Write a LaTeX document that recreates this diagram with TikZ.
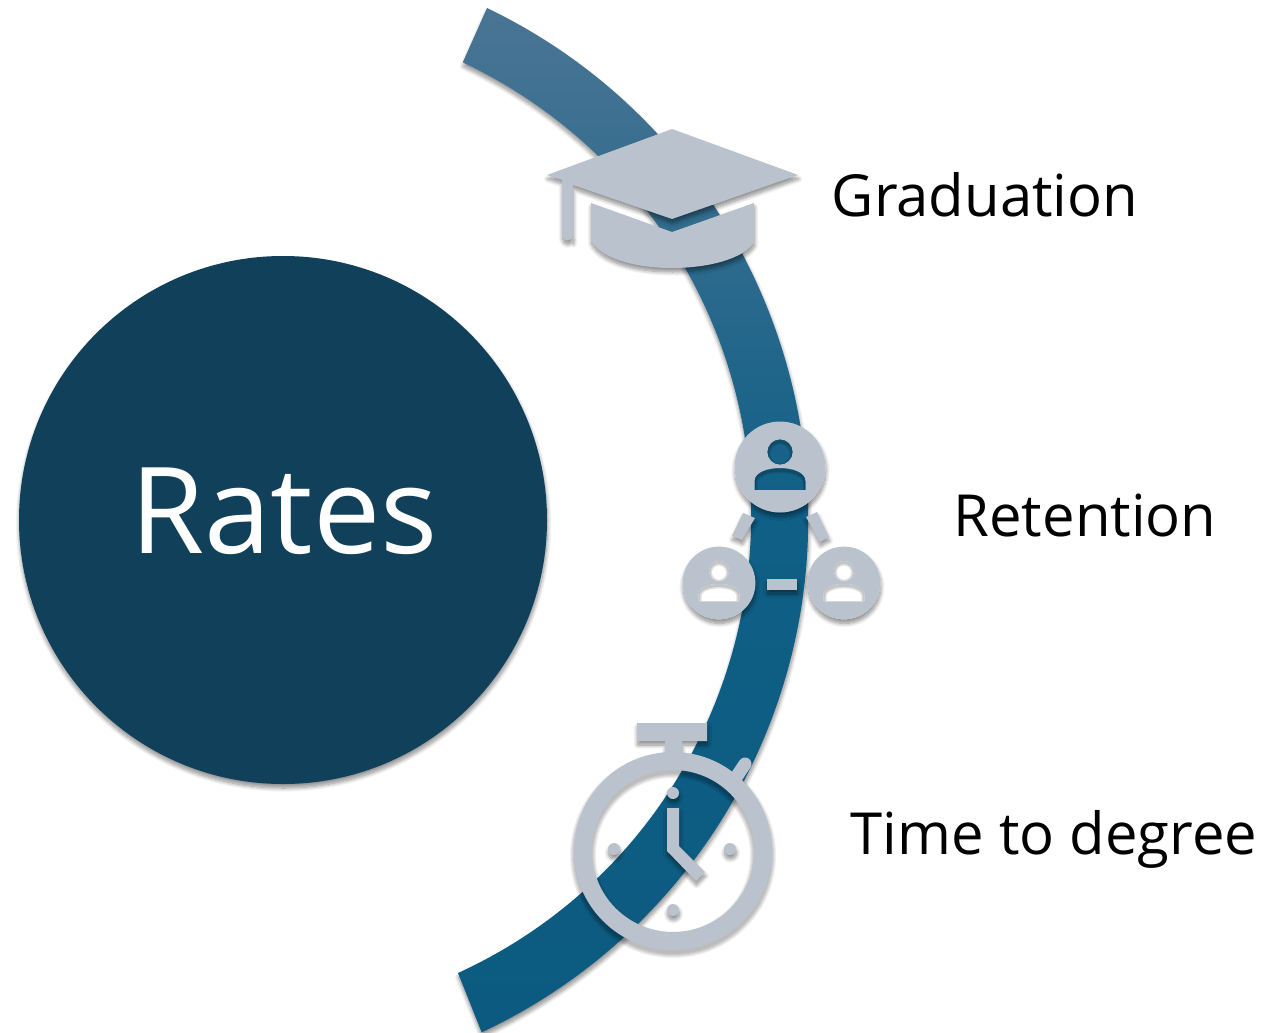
\documentclass[tikz,border=0pt]{standalone}
\usepackage{fontspec}
\setmainfont{Open Sans}
\usetikzlibrary{shadows.blur}
\definecolor{ratesblue}{HTML}{11405A}
\definecolor{icongray}{HTML}{BAC3CD}
\definecolor{bandtop}{HTML}{4A7594}
\definecolor{bandmid}{HTML}{0F5F86}
\definecolor{bandlow}{HTML}{0C5A80}
\tikzset{
	softshadow/.style={blur shadow={shadow xshift=0.5pt, shadow yshift=-4pt, shadow blur radius=4pt, shadow blur steps=10, shadow opacity=45}},
	iconpart/.style={fill=icongray, draw=none, softshadow},
	bandlabel/.style={font=\fontsize{58}{62}\selectfont, text=black, inner sep=0pt}
}
\def\personicon(#1)(#2){
	\begin{scope}[shift={(#1)}, scale=#2]
		\begin{scope}[even odd rule]
			\clip (-70, -70) rectangle (70, 70) (0, 0) circle (45.5);
			\path[softshadow] (0, 0) circle (45.5);
		\end{scope}
		\begin{scope}
			\clip (0, -15) circle (12.7);
			\draw[black, opacity=0.12, line width=3pt] (0, -13) circle (12.7);
			\draw[black, opacity=0.12, line width=6pt] (0, -13) circle (12.7);
		\end{scope}
		\begin{scope}
			\clip (-25.5, 23) -- (25.5, 23) -- (25.5, 14) .. controls (25.5, 5) and (12, 1) .. (0, 1) .. controls (-12, 1) and (-25.5, 5) .. (-25.5, 14) -- cycle;
			\draw[black, opacity=0.12, line width=3pt] (25.5, 25) -- (25.5, 16) .. controls (25.5, 7) and (12, 3) .. (0, 3) .. controls (-12, 3) and (-25.5, 7) .. (-25.5, 16) -- (-25.5, 25);
			\draw[black, opacity=0.12, line width=6pt] (25.5, 25) -- (25.5, 16) .. controls (25.5, 7) and (12, 3) .. (0, 3) .. controls (-12, 3) and (-25.5, 7) .. (-25.5, 16) -- (-25.5, 25);
		\end{scope}
		\path[fill=icongray, even odd rule] (0, 0) circle (45.5) (0, -15) circle (12.7) (-25.5, 23) -- (25.5, 23) -- (25.5, 14) .. controls (25.5, 5) and (12, 1) .. (0, 1) .. controls (-12, 1) and (-25.5, 5) .. (-25.5, 14) -- cycle;
	\end{scope}
}

\begin{document}
\begin{tikzpicture}[x=1pt, y=-1pt]
		%%%%% START %%%%%
		\useasboundingbox (0, 0) rectangle (1286, 1033);
		
		\path[fill=ratesblue, softshadow] (283, 520) circle (264);
		\node[font=\fontsize{120}{124}\selectfont, text=white, inner sep=0pt] (rates) at (284, 511) {Rates};
		
		% band
		\path[top color=bandtop, bottom color=bandlow, middle color=bandmid, softshadow] (487, 8) arc[start angle=-64.3, end angle=64.9, radius=567] -- (458, 973) arc[start angle=65.4, end angle=-64.8, radius=502] -- cycle;
		
		% cap
		\path[iconpart] (573, 240) -- (573, 185) -- (672, 219) -- (798, 175) -- (672, 129) -- (547, 175) -- (562, 180) -- (562, 235) arc[start angle=180, end angle=0, radius=5.5] -- cycle;
		\path[iconpart] (591, 203) -- (672, 232) -- (754, 203) -- (754, 242) .. controls (745, 258) and (710, 268) .. (672, 268) .. controls (634, 268) and (600, 258) .. (591, 240) -- cycle;
		\node[bandlabel] (graduation) at (985, 195) {Graduation};
		
		% people
		\personicon(780, 467)(1)
		\personicon(719, 583)(0.8)
		\personicon(844, 583)(0.8)
		\path[iconpart] (743, 513) -- (755, 518) -- (742, 540) -- (732, 536) -- cycle;
		\path[iconpart] (806, 517) -- (817, 512) -- (829, 537) -- (820, 542) -- cycle;
		\path[iconpart] (767, 579) rectangle (797, 590);
		\node[bandlabel] (retention) at (1085, 515) {Retention};
		
		% stopwatch
		\foreach \w in {18, 20, ..., 26} {
			\draw[black, opacity=0.06, line width=\w pt] (673, 855) circle (90);
		}
		\path[iconpart] (637, 723) -- (707, 723) -- (707, 741) -- (682, 741) -- (682, 755) -- (665, 755) -- (665, 741) -- (637, 741) -- cycle;
		\draw[line width=13pt, line cap=round, icongray] (737, 776) -- (745, 764);
		\draw[line width=18pt, icongray] (673, 851) circle (90);
		\path[iconpart] (673, 793) circle (6);
		\path[iconpart] (614, 849) circle (6);
		\path[iconpart] (730, 849) circle (6);
		\path[iconpart] (673, 910) circle (6);
		\path[iconpart] (667, 808) -- (679, 808) -- (679, 846) -- (705, 872) -- (696, 881) -- (667, 851) -- cycle;
		\node[bandlabel] (timedegree) at (1054, 839) {Time to degree};
		
		%%%%% END %%%%%
	\end{tikzpicture}
\end{document}
